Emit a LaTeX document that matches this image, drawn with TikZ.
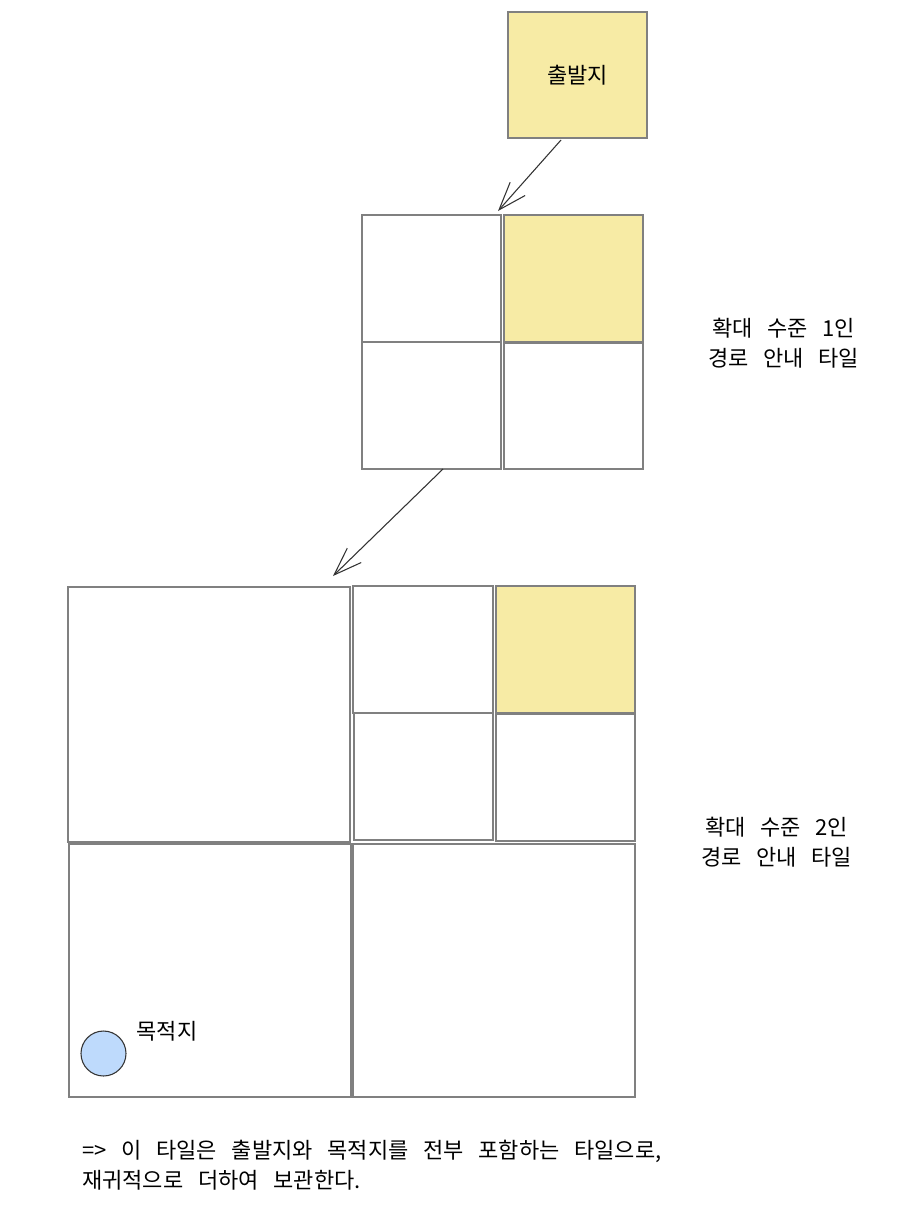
\documentclass[tikz,border=0pt]{standalone}
\usepackage{fontspec}
\newfontfamily\kofont{Noto Sans CJK KR}[WordSpace=3]
\usetikzlibrary{arrows.meta,fit,calc}
\definecolor{tileyellow}{RGB}{247,235,165}
\definecolor{tilegray}{RGB}{128,128,128}
\definecolor{destblue}{RGB}{190,218,252}
\tikzset{
  tile/.style={draw=tilegray, line width=1.5pt, inner sep=0pt, fill=white},
  hot/.style={tile, fill=tileyellow},
  arr/.style={-{Straight Barb[length=21pt,width=15pt]}, draw=black!80, line width=0.8pt},
  label/.style={font=\kofont\fontsize{16.5}{22.5}\selectfont, inner sep=0.75pt}
}
\begin{document}
\begin{tikzpicture}[x=0.75pt,y=0.75pt,yscale=-1,xscale=1]
\useasboundingbox (0,0) rectangle (920,1228);
\fill[white] (0,0) rectangle (920,1228);

%Start tile
\node [hot, fit={(508,12) (647,138)}] (start) {};
% Text Node
\node [label] (startlbl) at (577.5,75) {출발지};

%Zoom level 1 tiles
\node [tile, fit={(362,215) (501,342)}] (l1a) {};
\node [hot, fit={(504,215) (643,342)}] (l1b) {};
\node [tile, fit={(362,342) (501,469)}] (l1c) {};
\node [tile, fit={(504,343) (643,469)}] (l1d) {};
% Text Node
\node [label, align=center] (lvl1) at (783.5,343) {확대 수준 1인\\경로 안내 타일};

%Zoom level 2 tiles
\node [tile, fit={(68,587) (350,842)}] (l2a) {};
\node [tile, fit={(353,586) (493,713)}] (l2b) {};
\node [hot, fit={(496,586) (635,713)}] (l2c) {};
\node [tile, fit={(354,713) (493,840)}] (l2d) {};
\node [tile, fit={(496,714) (635,841)}] (l2e) {};
\node [tile, fit={(69,844) (351,1097)}] (l2f) {};
\node [tile, fit={(353,844) (635,1097)}] (l2g) {};
% Text Node
\node [label, align=center] (lvl2) at (776.5,842.5) {확대 수준 2인\\경로 안내 타일};

%Destination
\node [circle, draw=black!80, fill=destblue, line width=0.8pt, minimum size=33.75pt, inner sep=0pt] (dest) at (103.5,1053.5) {};
% Text Node
\node [label] (destlbl) at (167,1031) {목적지};

%Arrows
\draw [arr] ($(start.south)+(-16.5,1)$) -- ($(l1a.north east)+(-4,-3)$);
\draw [arr] ($(l1c.south)+(11.5,-1)$) -- ($(l2a.north east)+(-18,-10)$);

% Text Node
\node [label, anchor=west, align=left] (note) at (81,1165) {=> 이 타일은 출발지와 목적지를 전부 포함하는 타일으로,\\재귀적으로 더하여 보관한다.};

\end{tikzpicture}
\end{document}
